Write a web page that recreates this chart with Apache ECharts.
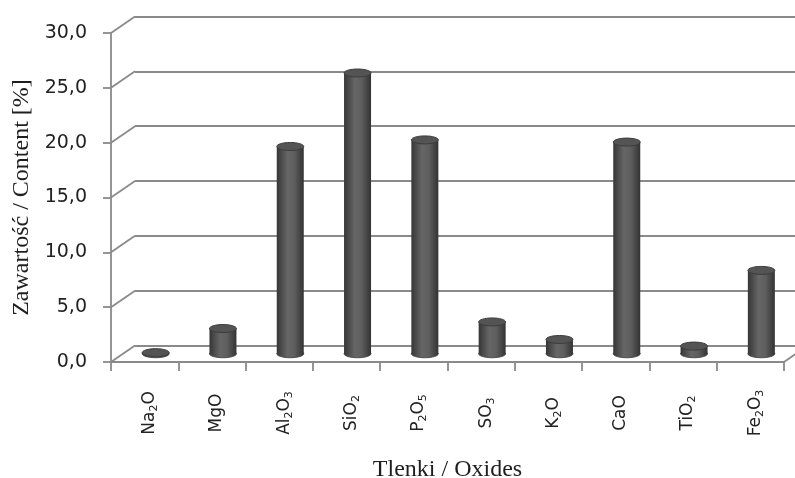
<!DOCTYPE html>
<html>
<head>
<meta charset="utf-8">
<script src="https://cdn.jsdelivr.net/npm/echarts@6/dist/echarts.min.js"></script>
<style>
  html, body { margin: 0; padding: 0; background: #fff; }
  #chart { width: 795px; height: 478px; }
</style>
</head>
<body>
<div id="chart"></div>
<script>
// oxides (sub-digits written as {s|n} for subscripts)
const categories = ["Na{s|2}O", "MgO", "Al{s|2}O{s|3}", "SiO{s|2}", "P{s|2}O{s|5}", "SO{s|3}", "K{s|2}O", "CaO", "TiO{s|2}", "Fe{s|2}O{s|3}"];
// content [%]
const contentValues = [0.1, 2.3, 18.9, 25.6, 19.5, 2.9, 1.3, 19.3, 0.7, 7.6];
// y tick labels
const yTicks = [0, 5, 10, 15, 20, 25, 30];

const DX = 24;    // depth offset of back wall
const DY = -16.5;
const lineColor = "#8a8a8a";

const chart = echarts.init(document.getElementById("chart"));

/** frame: diagonal side lines of the 3d box */
function renderFrame(params, api) {
  const cs = params.coordSys;
  const children = [];
  yTicks.forEach((v) => {
    const y = api.coord([0, v])[1];
    children.push({
      type: "line",
      shape: { x1: cs.x, y1: y, x2: cs.x + DX, y2: y + DY },
      style: { stroke: lineColor, lineWidth: 1.8 },
    });
  });
  const y0 = api.coord([0, yTicks[0]])[1];
  children.push({
    type: "line",
    shape: { x1: cs.x + cs.width, y1: y0, x2: cs.x + cs.width + DX, y2: y0 + DY },
    style: { stroke: lineColor, lineWidth: 1.8 },
  });
  return { type: "group", children };
}

/** cylinder bar */
function renderCylinder(params, api) {
  const i = api.value(0);
  const v = api.value(1);
  const base = api.coord([i, 0]);
  const top = api.coord([i, v]);
  const cx = base[0] + DX / 2 - 1;
  const by = base[1] + DY / 2;
  const ty = top[1] + DY / 2;
  const rx = 13.5;
  const ry = 4;
  const fill = new echarts.graphic.LinearGradient(0, 0, 1, 0, [
    { offset: 0, color: "#363636" },
    { offset: 0.4, color: "#666666" },
    { offset: 0.65, color: "#5e5e5e" },
    { offset: 1, color: "#333333" },
  ]);
  return {
    type: "group",
    children: [
      { type: "ellipse", shape: { cx: cx, cy: by, rx: rx, ry: ry }, style: { fill: fill, stroke: "#3c3c3c", lineWidth: 0.8 } },
      { type: "rect", shape: { x: cx - rx, y: ty, width: rx * 2, height: Math.max(by - ty, 0) }, style: { fill: fill } },
      { type: "ellipse", shape: { cx: cx, cy: ty, rx: rx, ry: ry }, style: { fill: "#545454", stroke: "#3c3c3c", lineWidth: 1 } },
    ],
  };
}

chart.setOption({
  animation: false,
  grid: [
    { left: 111, right: 11, top: 33, bottom: 116, outerBoundsMode: "none", containLabel: false },
    { left: 135, right: 0, top: 16.5, bottom: 132.5, outerBoundsMode: "none", containLabel: false },
  ],
  xAxis: [
    {
      gridIndex: 0,
      type: "category",
      data: categories,
      name: "Tlenki / Oxides",
      nameLocation: "middle",
      nameGap: 96,
      nameTextStyle: { fontFamily: "Liberation Serif", fontSize: 24, color: "#1e1e1e" },
      axisLine: { show: true, lineStyle: { color: lineColor, width: 1.8 } },
      axisTick: { show: true, length: 9, lineStyle: { color: lineColor, width: 1.8 } },
      axisLabel: {
        rotate: 90,
        align: "center",
        verticalAlign: "middle",
        margin: 51,
        interval: 0,
        fontFamily: "DejaVu Sans",
        fontSize: 17,
        lineHeight: 20,
        padding: [10, 0, 0, 0],
        color: "#222",
        rich: {
          s: { fontFamily: "DejaVu Sans", fontSize: 11, lineHeight: 8, verticalAlign: "bottom", color: "#222" },
        },
      },
    },
    {
      gridIndex: 1,
      type: "category",
      data: categories,
      show: false,
    },
  ],
  yAxis: [
    {
      gridIndex: 0,
      type: "value",
      min: yTicks[0],
      max: yTicks[yTicks.length - 1],
      interval: yTicks[1] - yTicks[0],
      name: "Zawartość / Content [%]",
      nameLocation: "middle",
      nameGap: 76,
      nameTextStyle: { fontFamily: "Liberation Serif", fontSize: 24, color: "#1e1e1e" },
      axisLine: { show: true, lineStyle: { color: lineColor, width: 1.8 } },
      axisTick: { show: true, length: 8, lineStyle: { color: lineColor, width: 1.8 } },
      axisLabel: {
        margin: 24,
        fontFamily: "DejaVu Sans",
        fontSize: 19,
        color: "#222",
        formatter: (v) => v.toFixed(1).replace(".", ","),
      },
      splitLine: { show: false },
    },
    {
      gridIndex: 1,
      type: "value",
      min: yTicks[0],
      max: yTicks[yTicks.length - 1],
      interval: yTicks[1] - yTicks[0],
      axisLine: { show: false },
      axisTick: { show: false },
      axisLabel: { show: false },
      splitLine: { show: true, lineStyle: { color: lineColor, width: 1.8 } },
    },
  ],
  series: [
    {
      name: "frame",
      type: "custom",
      xAxisIndex: 0,
      yAxisIndex: 0,
      silent: true,
      renderItem: renderFrame,
      data: [[0, 0]],
      z: 1,
    },
    {
      name: "Zawartość",
      type: "custom",
      xAxisIndex: 0,
      yAxisIndex: 0,
      renderItem: renderCylinder,
      data: contentValues.map((v, i) => [i, v]),
      z: 3,
    },
  ],
});
</script>
</body>
</html>
